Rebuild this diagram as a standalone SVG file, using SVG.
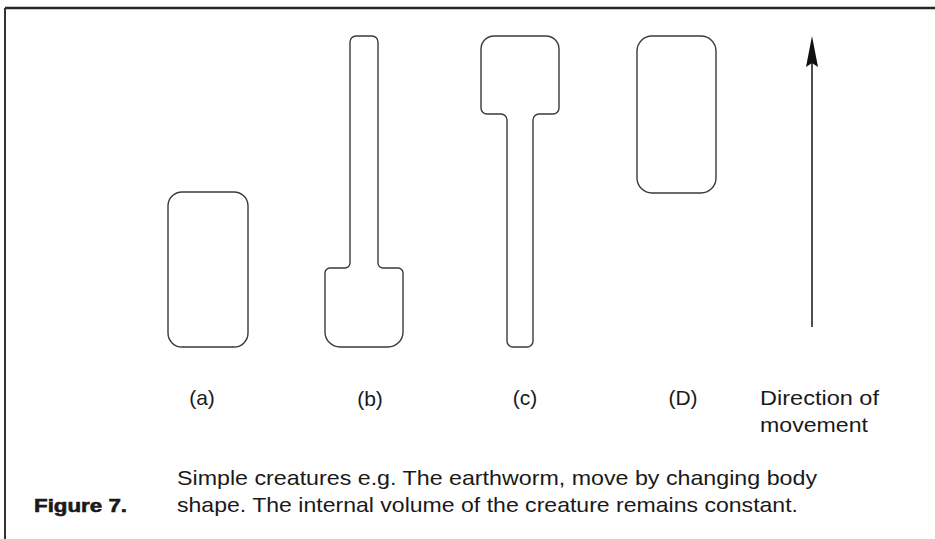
<svg xmlns="http://www.w3.org/2000/svg" width="935" height="539" viewBox="0 0 935 539">
<style>
.shape{fill:none;stroke:#3a3a3a;stroke-width:1.4;stroke-linejoin:round}
.lbl{font-family:"Liberation Sans",Arial,sans-serif;font-size:21px;fill:#1a1a1a}
.fig{font-family:"Liberation Sans",Arial,sans-serif;font-size:19px;font-weight:bold;fill:#1a1a1a;stroke:#1a1a1a;stroke-width:0.6}
</style>
<rect width="935" height="539" fill="#ffffff"/>
<g id="frame">
<line x1="5" y1="8" x2="935" y2="8" stroke="#2a2520" stroke-width="2.5"/>
<line x1="5" y1="8" x2="5" y2="539" stroke="#333" stroke-width="2"/>
</g>
<g id="shape-a"><rect class="shape" x="168" y="192" width="80" height="155" rx="14"/></g>
<g id="shape-b"><path class="shape" d="M350,42 a6,6 0 0 1 6,-6 h16 a6,6 0 0 1 6,6 V263 a5,5 0 0 0 5,5 h15 a5,5 0 0 1 5,5 V332 a15,15 0 0 1 -15,15 H340 a15,15 0 0 1 -15,-15 V273 a5,5 0 0 1 5,-5 h15 a5,5 0 0 0 5,-5 Z"/></g>
<g id="shape-c"><path class="shape" d="M494,36 H546 a13,13 0 0 1 13,13 V108 a6,6 0 0 1 -6,6 H539 a6,6 0 0 0 -6,6 V341 a6,6 0 0 1 -6,6 H513 a6,6 0 0 1 -6,-6 V120 a6,6 0 0 0 -6,-6 H487 a6,6 0 0 1 -6,-6 V49 a13,13 0 0 1 13,-13 Z"/></g>
<g id="shape-d"><rect class="shape" x="637" y="36" width="79" height="157" rx="15"/></g>
<g id="connectors">
<line x1="812" y1="327" x2="812" y2="60" stroke="#222" stroke-width="1.6"/>
<polygon points="812,36 818,67 812,63 806,67" fill="#111"/>
</g>
<g id="labels">
<text class="lbl" x="202" y="405" text-anchor="middle">(a)</text>
<text class="lbl" x="370" y="406" text-anchor="middle">(b)</text>
<text class="lbl" x="525" y="405" text-anchor="middle">(c)</text>
<text class="lbl" x="683" y="405" text-anchor="middle">(D)</text>
<text class="lbl" x="760" y="405" textLength="119" lengthAdjust="spacingAndGlyphs">Direction of</text>
<text class="lbl" x="760" y="432" textLength="108" lengthAdjust="spacingAndGlyphs">movement</text>
<text class="lbl" x="177" y="485" textLength="640" lengthAdjust="spacingAndGlyphs">Simple creatures e.g. The earthworm, move by changing body</text>
<text class="lbl" x="177" y="512" textLength="621" lengthAdjust="spacingAndGlyphs">shape. The internal volume of the creature remains constant.</text>
<text class="fig" x="34" y="512" textLength="93" lengthAdjust="spacingAndGlyphs">Figure 7.</text>
</g>
</svg>
